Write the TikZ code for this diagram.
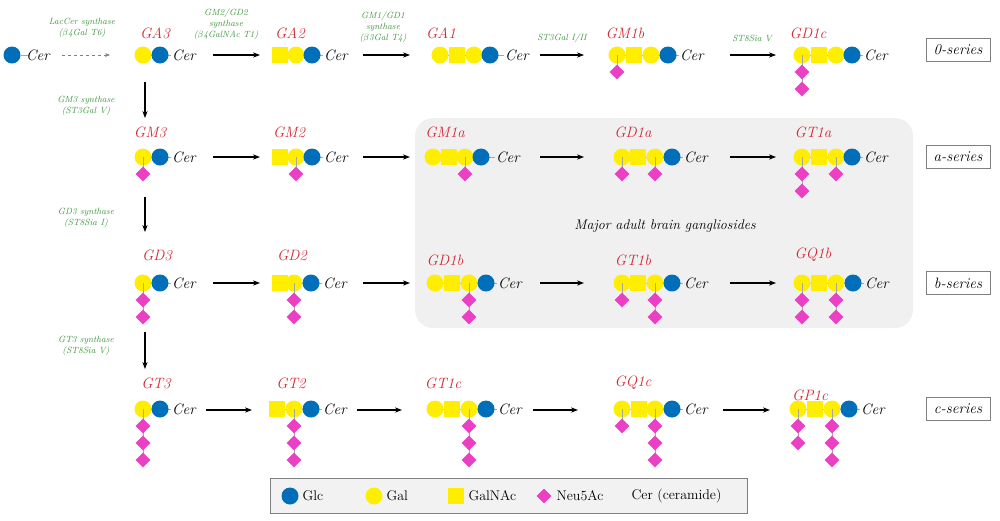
\documentclass[tikz,border=0pt]{standalone}
\usepackage{tikz}
\usetikzlibrary{arrows.meta,shapes.geometric}
\definecolor{glcblue}{RGB}{0,110,185}
\definecolor{galyellow}{RGB}{255,238,0}
\definecolor{neupink}{RGB}{236,64,196}
\definecolor{namered}{RGB}{210,40,50}
\definecolor{enzgreen}{RGB}{60,150,60}
\tikzset{
	link/.style = {draw=gray!70, line width=0.6pt},
	glc/.style = {circle, fill=glcblue, minimum size=17pt, inner sep=0pt},
	gal/.style = {circle, fill=galyellow, minimum size=17pt, inner sep=0pt},
	galnac/.style = {rectangle, fill=galyellow, minimum size=16pt, inner sep=0pt},
	neu/.style = {diamond, fill=neupink, minimum size=15pt, inner sep=0pt},
	cer/.style = {font=\itshape\fontsize{15}{17}\selectfont, anchor=west, inner sep=1pt},
	gname/.style = {font=\itshape\fontsize{15}{17}\selectfont, text=namered},
	enzyme/.style = {font=\itshape\fontsize{9}{11}\selectfont, text=enzgreen, align=center, inner sep=0pt},
	reaction/.style = {-{Stealth[length=7pt]}, line width=1.2pt},
	series/.style = {draw=gray, font=\itshape\fontsize{15}{17}\selectfont, minimum width=64pt, minimum height=23pt, inner sep=1pt},
	legtext/.style = {anchor=west, font=\fontsize{14}{16}\selectfont}
}
% chain: list of x/type, y, Cer x
\newcommand{\chain}[3]{%
	\foreach \px/\kind [count=\i] in {#1} {\ifnum\i=1 \xdef\firstx{\px}\fi}
	\draw[link] (\firstx,#2) -- (#3,#2);
	\foreach \px/\kind in {#1} {\node[\kind] at (\px,#2) {};}
	\node[cer] at (#3,#2) {Cer};
}
% sialic acids hanging below x: n of them
\newcommand{\sia}[3]{%
	\draw[link] (#1,#2) -- (#1,#2+17*#3);
	\foreach \k in {1,...,#3} {\node[neu] at (#1,#2+17*\k) {};}
}
\begin{document}
\begin{tikzpicture}[x=1pt,y=-1pt]
\useasboundingbox (0,0) rectangle (1000,520);
% major brain region
\fill[gray!12, rounded corners=18pt] (415,118) rectangle (913,328);
\node[font=\itshape\fontsize{14}{16}\selectfont] (major) at (665,226) {Major adult brain gangliosides};

% 0-series
\node[glc] (lac) at (12,55) {};
\draw[link] (lac) -- (28,55);
\node[cer] at (25,55) {Cer};
\chain{143/gal,160/glc}{55}{171}
\chain{280/galnac,296/gal,312/glc}{55}{323}
\chain{440/gal,457/galnac,474/gal,490/glc}{55}{504}
\chain{617/gal,634/galnac,651/gal,668/glc}{55}{679}
\sia{617}{55}{1}
\chain{802/gal,819/galnac,836/gal,852/glc}{55}{863}
\sia{802}{55}{2}
% a-series
\chain{143/gal,160/glc}{157}{171}
\sia{143}{157}{1}
\chain{280/galnac,296/gal,312/glc}{157}{323}
\sia{296}{157}{1}
\chain{433/gal,449/galnac,465/gal,481/glc}{157}{495}
\sia{465}{157}{1}
\chain{622/gal,638/galnac,655/gal,672/glc}{157}{683}
\sia{622}{157}{1} \sia{655}{157}{1}
\chain{802/gal,819/galnac,836/gal,852/glc}{157}{863}
\sia{802}{157}{2} \sia{836}{157}{1}
% b-series
\chain{143/gal,160/glc}{283}{171}
\sia{143}{283}{2}
\chain{280/galnac,294/gal,311/glc}{283}{322}
\sia{294}{283}{2}
\chain{435/gal,452/galnac,469/gal,486/glc}{283}{497}
\sia{469}{283}{2}
\chain{622/gal,638/galnac,655/gal,672/glc}{283}{683}
\sia{622}{283}{1} \sia{655}{283}{2}
\chain{802/gal,819/galnac,836/gal,853/glc}{283}{864}
\sia{802}{283}{2} \sia{836}{283}{2}
% c-series
\chain{143/gal,160/glc}{409}{171}
\sia{143}{409}{3}
\chain{277/galnac,294/gal,311/glc}{409}{322}
\sia{294}{409}{3}
\chain{435/gal,452/galnac,469/gal,486/glc}{409}{497}
\sia{469}{409}{3}
\chain{622/gal,639/galnac,655/gal,672/glc}{409}{683}
\sia{622}{409}{1} \sia{655}{409}{3}
\chain{798/gal,815/galnac,832/gal,849/glc}{409}{860}
\sia{798}{409}{2} \sia{832}{409}{3}

% names
\foreach \nm/\px/\py in {GA3/155/33, GA2/290/33, GA1/441/33, GM1b/625/33, GD1c/808/33,
	GM3/150/132, GM2/289/132, GM1a/445/132, GD1a/633/132, GT1a/813/132,
	GD3/157/255, GD2/292/255, GD1b/445/260, GT1b/633/260, GQ1b/813/255,
	GT3/156/383, GT2/291/383, GT1c/443/383, GQ1c/633/383, GP1c/810/395}
	\node[gname] (\nm) at (\px,\py) {\nm};

% reactions
\draw[-{Stealth[length=5pt]}, dashed, gray] (62,55) -- (110,55);
\foreach \ya in {55,157,283} {
	\draw[reaction] (213,\ya) -- (260,\ya);
	\draw[reaction] (363,\ya) -- (410,\ya);
	\draw[reaction] (540,\ya) -- (584,\ya);
	\draw[reaction] (730,\ya) -- (776,\ya);
}
\draw[reaction] (206,410) -- (252,410);
\draw[reaction] (357,410) -- (402,410);
\draw[reaction] (533,410) -- (578,410);
\draw[reaction] (723,410) -- (770,410);
\draw[reaction] (145,82) -- (145,118);
\draw[reaction] (145,197) -- (145,232);
\draw[reaction] (145,332) -- (145,369);

% enzymes
\node[enzyme] at (82,28) {LacCer synthase\\($\beta$4Gal T6)};
\node[enzyme] at (226,24) {GM2/GD2\\synthase\\($\beta$4GalNAc T1)};
\node[enzyme] at (383,27) {GM1/GD1\\synthase\\($\beta$3Gal T4)};
\node[enzyme] at (562,38) {ST3Gal I/II};
\node[enzyme] at (752,38) {ST8Sia V};
\node[enzyme] at (86,106) {GM3 synthase\\(ST3Gal V)};
\node[enzyme] at (86,218) {GD3 synthase\\(ST8Sia I)};
\node[enzyme] at (86,346) {GT3 synthase\\(ST8Sia V)};

% series
\node[series] (s0) at (958,50) {0-series};
\node[series] (sa) at (958,157) {a-series};
\node[series] (sb) at (958,283) {b-series};
\node[series] (sc) at (958,409) {c-series};

% legend
\draw[gray, fill=gray!10] (270,478) rectangle (747,513);
\node[glc] at (290,496) {};
\node[legtext] at (299,496) {Glc};
\node[gal] at (374,496) {};
\node[legtext] at (383,496) {Gal};
\node[galnac] at (456,496) {};
\node[legtext] at (465,496) {GalNAc};
\node[neu] at (544,496) {};
\node[legtext] at (553,496) {Neu5Ac};
\node[legtext] at (628,496) {Cer (ceramide)};
\end{tikzpicture}
\end{document}
